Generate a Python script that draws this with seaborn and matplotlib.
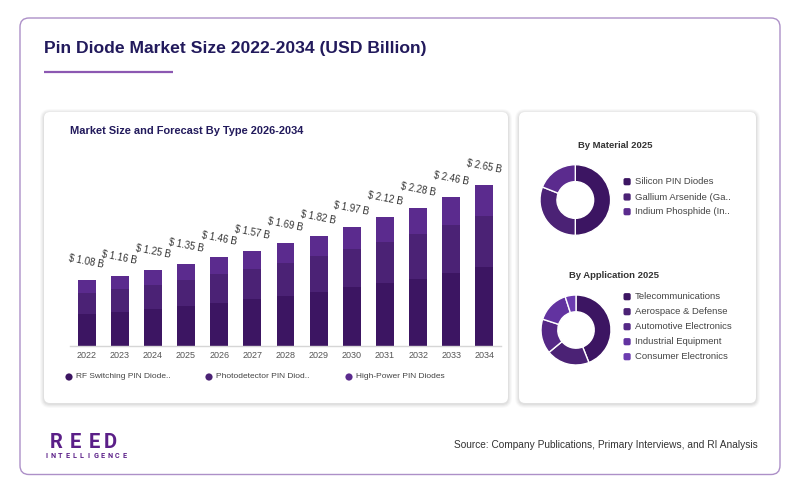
import numpy as np
import pandas as pd
import matplotlib
matplotlib.use("Agg")
import matplotlib.pyplot as plt
from matplotlib.patches import FancyBboxPatch, Circle
import seaborn as sns

# ---------------- data ----------------
years = ["2022", "2023", "2024", "2025", "2026", "2027", "2028",
         "2029", "2030", "2031", "2032", "2033", "2034"]
rf_switching = [0.52, 0.56, 0.60, 0.65, 0.71, 0.77, 0.82, 0.89, 0.97, 1.04, 1.11, 1.20, 1.30]
photodetector = [0.35, 0.37, 0.41, 0.44, 0.47, 0.50, 0.55, 0.59, 0.63, 0.67, 0.73, 0.79, 0.84]
high_power = [0.21, 0.23, 0.24, 0.26, 0.28, 0.30, 0.32, 0.34, 0.37, 0.41, 0.44, 0.47, 0.51]
type_labels = ["RF Switching PIN Diode..", "Photodetector PIN Diod..", "High-Power PIN Diodes"]

material_labels = ["Silicon PIN Diodes", "Gallium Arsenide (Ga..", "Indium Phosphide (In.."]
material_values = [50, 31, 19]

application_labels = ["Telecommunications", "Aerospace & Defense", "Automotive Electronics",
                      "Industrial Equipment", "Consumer Electronics"]
application_values = [44, 20, 16, 15, 5]

# ---------------- style ----------------
sns.set_theme(style="white")
plt.rcParams["font.family"] = ["Liberation Sans", "DejaVu Sans"]

C_RF = "#3c1562"
C_PD = "#4b2275"
C_HP = "#5b2b8e"
APP_COLORS = ["#3c1562", "#4b2275", "#552886", "#6233a0", "#6c3cb0"]
MAT_COLORS = [C_RF, C_PD, C_HP]
NAVY = "#221a5c"

W, H = 800, 493
fig = plt.figure(figsize=(W / 100, H / 100), dpi=100)
fig.patch.set_facecolor("white")

# overlay axes in pixel coordinates
ov = fig.add_axes([0, 0, 1, 1], zorder=0)
ov.set_xlim(0, W)
ov.set_ylim(H, 0)
ov.axis("off")

def rbox(x0, y0, x1, y1, fc, ec="none", lw=0, r=6, alpha=1.0, z=1):
    p = FancyBboxPatch((x0, y0), x1 - x0, y1 - y0,
                       boxstyle=f"round,pad=0,rounding_size={r}",
                       fc=fc, ec=ec, lw=lw, alpha=alpha, zorder=z)
    ov.add_patch(p)

# outer border
rbox(20, 18, 780, 474.5, "white", ec="#ad90c8", lw=1.0, r=9, z=1)

# cards with soft shadow
for (x0, y0, x1, y1) in [(44, 112, 508, 403), (519, 112, 756, 403)]:
    for k, a in [(4, 0.05), (3, 0.07), (2, 0.09), (1, 0.12)]:
        rbox(x0 - k, y0 - k + 1, x1 + k, y1 + k + 1, "#9a9a9a", r=6 + k, alpha=a, z=2)
    rbox(x0, y0, x1, y1, "white", r=6, z=3)

# title + underline
ov.text(43.5, 53.3, "Pin Diode Market Size 2022-2034 (USD Billion)", fontsize=12.6,
        fontweight="bold", color=NAVY, ha="left", va="baseline", zorder=5)
ov.plot([43.5, 172.5], [71.8, 71.8], color="#8c58b2", lw=1.6, solid_capstyle="butt", zorder=5)

# subtitle
ov.text(70, 134, "Market Size and Forecast By Type 2026-2034", fontsize=7.9,
        fontweight="bold", color=NAVY, ha="left", va="baseline", zorder=5)

# ---------------- stacked bars ----------------
df = pd.DataFrame({"year": years, "rf": rf_switching, "pd": photodetector, "hp": high_power})
df["rf_pd"] = df["rf"] + df["pd"]
df["total"] = df["rf_pd"] + df["hp"]

ax_l, ax_r, base_y, ppu = 70, 501, 345.7, 60.5
ymax = 3.0
ax = fig.add_axes([ax_l / W, 1 - base_y / H, (ax_r - ax_l) / W, ymax * ppu / H], zorder=4)
ax.set_facecolor("none")
bw = 0.54
sns.barplot(data=df, x="year", y="total", color=C_HP, width=bw, saturation=1,
            linewidth=0, ax=ax)
sns.barplot(data=df, x="year", y="rf_pd", color=C_PD, width=bw, saturation=1,
            linewidth=0, ax=ax)
sns.barplot(data=df, x="year", y="rf", color=C_RF, width=bw, saturation=1,
            linewidth=0, ax=ax)
ax.set_xlim(-0.5, len(years) - 0.5)
ax.set_ylim(0, ymax)
ax.set_xlabel("")
ax.set_ylabel("")
ax.set_yticks([])
for s in ["left", "right", "top"]:
    ax.spines[s].set_visible(False)
ax.spines["bottom"].set_color("#d6d6d6")
ax.spines["bottom"].set_linewidth(1)
ax.tick_params(axis="x", length=0, pad=4, labelsize=6.5, labelcolor="#555555")

for i, t in enumerate(df["total"]):
    ax.annotate(f"$ {t:.2f} B", (i, t), xytext=(0, 18.5), textcoords="offset pixels",
                ha="center", va="center", rotation=-11, rotation_mode="anchor",
                fontsize=6.9, color="#333333")

# bar legend
for x, lab, c in zip([69, 209, 349], type_labels, [C_RF, C_PD, C_HP]):
    ov.add_patch(Circle((x, 377), 3.6, fc=c, ec="none", zorder=5))
    ov.text(x + 7, 377, lab, fontsize=6.0, color="#444444", ha="left", va="center", zorder=5)

# ---------------- donuts ----------------
def donut(cx, cy, r, vals, cols):
    a = fig.add_axes([(cx - r) / W, 1 - (cy + r) / H, 2 * r / W, 2 * r / H], zorder=4)
    a.pie(vals, colors=cols, startangle=90, counterclock=False, radius=1.0,
          wedgeprops=dict(width=0.48, edgecolor="white", linewidth=1.0))
    a.set_xlim(-1.0, 1.0)
    a.set_ylim(-1.0, 1.0)
    a.set_facecolor("none")
    a.axis("off")

ov.text(615, 145.7, "By Material 2025", fontsize=6.8, fontweight="bold", color="#333333",
        ha="center", va="center", zorder=5)
donut(575.3, 200, 35.3, material_values, MAT_COLORS)
for y, lab, c in zip([181.7, 197, 211.7], material_labels, MAT_COLORS):
    rbox(623.5, y - 3.6, 630.7, y + 3.6, c, r=1.8, z=5)
    ov.text(635, y, lab, fontsize=6.8, color="#444444", ha="left", va="center", zorder=5)

ov.text(614, 275, "By Application 2025", fontsize=6.8, fontweight="bold", color="#333333",
        ha="center", va="center", zorder=5)
donut(576, 330, 35, application_values, APP_COLORS)
for y, lab, c in zip([296.7, 311.7, 326.7, 341.7, 356.7], application_labels, APP_COLORS):
    rbox(623.5, y - 3.6, 630.7, y + 3.6, c, r=1.8, z=5)
    ov.text(635, y, lab, fontsize=6.8, color="#444444", ha="left", va="center", zorder=5)

# ---------------- footer ----------------
for ch, x0 in zip("REED", [49.3, 69.3, 88.3, 103.3]):
    ov.text(x0, 448.3, ch, fontsize=14.5, color="#5b1f88", ha="left", va="baseline",
            family=["Roboto", "Liberation Sans"], fontweight="bold", zorder=5)
for i, ch in enumerate("INTELLIGENCE"):
    ov.text(46 + i * 7.1, 456, ch, fontsize=5.2, color="#5b1f88", ha="center", va="center",
            family=["Roboto", "Liberation Sans"], fontweight="bold", zorder=5)

ov.text(758, 445, "Source: Company Publications, Primary Interviews, and RI Analysis",
        fontsize=7.3, color="#333333", ha="right", va="center", zorder=5)

fig.savefig("out.png", dpi=100, facecolor="white")
